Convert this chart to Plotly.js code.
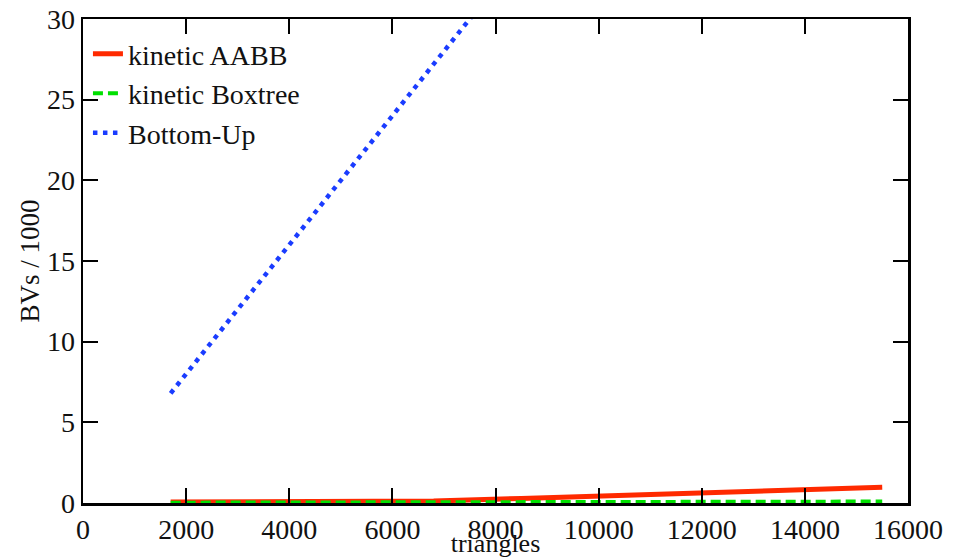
<!DOCTYPE html>
<html>
<head>
<meta charset="utf-8">
<script src="https://cdn.plot.ly/plotly-3.0.1.min.js"></script>
<style>html,body{margin:0;padding:0;background:#fff;}#chart{width:953px;height:558px;}</style>
</head>
<body>
<div id="chart"></div>
<script>
// Data (BVs / 1000 vs triangles)
const aabbX = [1700, 4000, 6800, 8500, 10000, 12000, 14000, 15500];
const aabbY = [0.06, 0.08, 0.12, 0.28, 0.43, 0.62, 0.82, 0.97];
const boxtreeX = [1700, 6000, 10000, 15500];
const boxtreeY = [0.02, 0.04, 0.06, 0.09];
const bottomUpX = [1700, 4000, 6000, 8000];
const bottomUpY = [6.8, 16.0, 23.9, 32.0];
const seriesNames = ["kinetic AABB", "kinetic Boxtree", "Bottom-Up"];
const xTicks = [0, 2000, 4000, 6000, 8000, 10000, 12000, 14000, 16000];
const yTicks = [0, 5, 10, 15, 20, 25, 30];

const FONT = "Liberation Serif, Times New Roman, serif";

const traces = [
  {x: aabbX, y: aabbY, name: seriesNames[0], mode: "lines",
   line: {color: "#ff2a00", width: 5}},
  {x: boxtreeX, y: boxtreeY, name: seriesNames[1], mode: "lines",
   line: {color: "#00e000", width: 4, dash: "10px,5px"}},
  {x: bottomUpX, y: bottomUpY, name: seriesNames[2], mode: "lines",
   line: {color: "#1a3cff", width: 4.5, dash: "4.5px,5.5px"}}
];

const axisCommon = {
  showgrid: false, zeroline: false, showline: true, linecolor: "#000", linewidth: 2.5,
  mirror: "ticks", ticks: "inside", ticklen: 15, tickwidth: 2, tickcolor: "#000",
  tickfont: {family: FONT, size: 28, color: "#111"}
};

const layout = {
  width: 953, height: 558,
  margin: {l: 83, r: 45, t: 19, b: 55},
  paper_bgcolor: "#fff", plot_bgcolor: "#fff",
  font: {family: FONT, color: "#000"},
  showlegend: true,
  legend: {x: 0.006, y: 0.979, xanchor: "left", yanchor: "top",
           bgcolor: "rgba(0,0,0,0)", font: {family: FONT, size: 28, color: "#111"},
           tracegroupgap: 0},
  xaxis: Object.assign({}, axisCommon, {
    range: [0, 16000], tickvals: xTicks, ticktext: xTicks.map(String),
    title: {text: "triangles", font: {family: FONT, size: 26, color: "#111"}, standoff: 0}
  }),
  yaxis: Object.assign({}, axisCommon, {
    range: [0, 30], tickvals: yTicks, ticktext: yTicks.map(String),
    title: {text: "BVs / 1000", font: {family: FONT, size: 27, color: "#111"}, standoff: 0}
  })
};

Plotly.newPlot("chart", traces, layout, {displayModeBar: false, staticPlot: true});
</script>
</body>
</html>
